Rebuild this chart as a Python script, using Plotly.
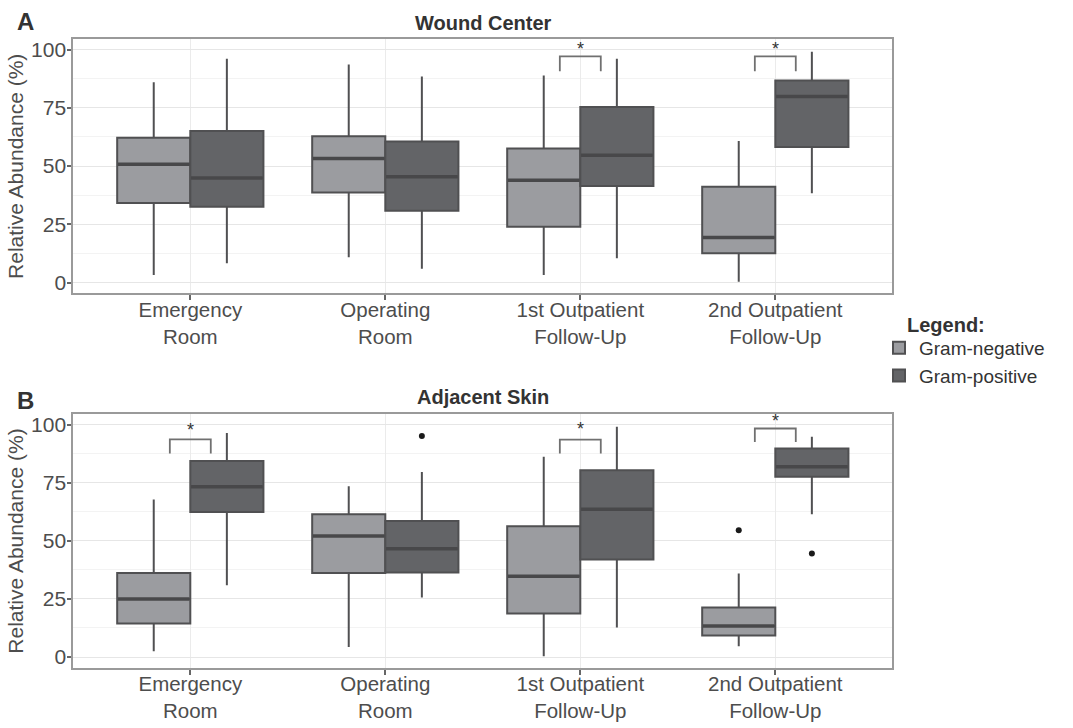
import plotly.graph_objects as go

# ---------------- data ----------------
categories = ["Emergency<br>Room", "Operating<br>Room",
              "1st Outpatient<br>Follow-Up", "2nd Outpatient<br>Follow-Up"]
series_names = ["Gram-negative", "Gram-positive"]

# Panel A: Wound Center
a_gn_low = [3.3, 10.9, 3.3, 0.4]
a_gn_q1 = [34.2, 38.7, 24.0, 12.6]
a_gn_med = [50.8, 53.2, 43.9, 19.3]
a_gn_q3 = [62.2, 62.8, 57.5, 41.1]
a_gn_high = [86.0, 93.6, 88.9, 60.8]

a_gp_low = [8.3, 5.9, 10.4, 38.3]
a_gp_q1 = [32.5, 30.8, 41.4, 58.2]
a_gp_med = [44.9, 45.4, 54.6, 79.9]
a_gp_q3 = [65.0, 60.5, 75.3, 86.7]
a_gp_high = [96.0, 88.4, 96.0, 99.1]

# Panel B: Adjacent Skin
b_gn_low = [2.5, 4.3, 0.3, 4.6]
b_gn_q1 = [14.4, 36.1, 18.7, 9.3]
b_gn_med = [25.0, 52.1, 34.7, 13.3]
b_gn_q3 = [36.1, 61.4, 56.2, 21.3]
b_gn_high = [67.7, 73.5, 86.1, 35.9]

b_gp_low = [30.9, 25.6, 12.7, 61.4]
b_gp_q1 = [62.4, 36.3, 41.9, 77.5]
b_gp_med = [73.2, 46.6, 63.6, 81.8]
b_gp_q3 = [84.3, 58.5, 80.3, 89.7]
b_gp_high = [96.4, 79.6, 99.0, 94.7]

# Outliers (category position, value)
b_gn_out_cat = [4]
b_gn_out_val = [54.5]
b_gp_out_cat = [2, 4]
b_gp_out_val = [95.1, 44.5]

# Significance brackets: category, bar level, leg end, star level
a_sig_cat = [3, 4]
a_sig_top = [97.1, 97.1]
a_sig_leg = [90.7, 90.7]
a_sig_star = [100.3, 100.3]

b_sig_cat = [1, 3, 4]
b_sig_top = [93.6, 93.5, 98.3]
b_sig_leg = [87.5, 87.5, 92.5]
b_sig_star = [97.8, 98.0, 101.4]

y_ticks = [0, 25, 50, 75, 100]

# ---------------- styling ----------------
GN_FILL = "#9b9ca0"
GP_FILL = "#636467"
LINE = "#505052"
FONT = "Liberation Sans"
TXT = "#4d4d4d"
pos = [1, 2, 3, 4]
W = 0.375
OFF = [-W / 2, W / 2]

fig = go.Figure()
shapes = []
annotations = []


def add_panel(xa, ya, gn, gp, showlegend):
    for i, (stats, fill) in enumerate([(gn, GN_FILL), (gp, GP_FILL)]):
        low, q1, med, q3, high = stats
        xs = [p + OFF[i] for p in pos]
        fig.add_trace(go.Box(
            x=xs, q1=q1, median=med, q3=q3, lowerfence=low, upperfence=high,
            width=W, fillcolor=fill, line=dict(color=LINE, width=2),
            whiskerwidth=0, boxpoints=False, name=series_names[i],
            legendgroup=series_names[i], showlegend=showlegend,
            hoverinfo="skip", xaxis=xa, yaxis=ya,
        ))
        # thicker median bar, as in ggplot
        for xc, m in zip(xs, med):
            shapes.append(dict(type="line", xref=xa, yref=ya, x0=xc - W / 2 + 0.004,
                               x1=xc + W / 2 - 0.004, y0=m, y1=m,
                               line=dict(color="#48484a", width=3.5)))


add_panel("x", "y",
          (a_gn_low, a_gn_q1, a_gn_med, a_gn_q3, a_gn_high),
          (a_gp_low, a_gp_q1, a_gp_med, a_gp_q3, a_gp_high), True)
add_panel("x2", "y2",
          (b_gn_low, b_gn_q1, b_gn_med, b_gn_q3, b_gn_high),
          (b_gp_low, b_gp_q1, b_gp_med, b_gp_q3, b_gp_high), False)

# outliers
fig.add_trace(go.Scatter(x=[c + OFF[0] for c in b_gn_out_cat], y=b_gn_out_val,
                         mode="markers", marker=dict(color="#1a1a1a", size=6),
                         showlegend=False, hoverinfo="skip", xaxis="x2", yaxis="y2"))
fig.add_trace(go.Scatter(x=[c + OFF[1] for c in b_gp_out_cat], y=b_gp_out_val,
                         mode="markers", marker=dict(color="#1a1a1a", size=6),
                         showlegend=False, hoverinfo="skip", xaxis="x2", yaxis="y2"))


def add_brackets(xr, yr, cats, tops, legs, stars):
    for c, t, l, s in zip(cats, tops, legs, stars):
        x0, x1 = c - 0.105, c + 0.105
        shapes.append(dict(type="path", xref=xr, yref=yr,
                           path=f"M {x0} {l} L {x0} {t} L {x1} {t} L {x1} {l}",
                           line=dict(color="#707070", width=1.8)))
        annotations.append(dict(x=c, y=s, xref=xr, yref=yr, text="*",
                                showarrow=False,
                                font=dict(family=FONT, size=18, color="#333333"),
                                yanchor="middle"))


add_brackets("x", "y", a_sig_cat, a_sig_top, a_sig_leg, a_sig_star)
add_brackets("x2", "y2", b_sig_cat, b_sig_top, b_sig_leg, b_sig_star)

# titles, panel labels, legend heading
annotations += [
    dict(text="<b>Wound Center</b>", x=483 / 1073, y=1 - 23 / 728, xref="paper", yref="paper",
         yanchor="middle", showarrow=False, font=dict(family=FONT, size=20, color="#333333")),
    dict(text="<b>Adjacent Skin</b>", x=483 / 1073, y=1 - 397 / 728, xref="paper", yref="paper",
         yanchor="middle", showarrow=False, font=dict(family=FONT, size=20, color="#333333")),
    dict(text="<b>A</b>", x=15 / 1073, y=1 - 21 / 728, xref="paper", yref="paper",
         yanchor="middle", showarrow=False, font=dict(family=FONT, size=24, color="#333333")),
    dict(text="<b>B</b>", x=15 / 1073, y=1 - 400 / 728, xref="paper", yref="paper",
         yanchor="middle", showarrow=False, font=dict(family=FONT, size=24, color="#333333")),
    dict(text="<b>Legend:</b>", x=905 / 1073, y=1 - 325 / 728, xref="paper", yref="paper",
         xanchor="left", yanchor="middle", showarrow=False,
         font=dict(family=FONT, size=20, color="#333333")),
]

xdom = [73.3 / 1073, 892.3 / 1073]
ydomA = [1 - 293.3 / 728, 1 - 39.3 / 728]
ydomB = [1 - 667.7 / 728, 1 - 414.3 / 728]

common_x = dict(range=[0.4, 4.6], tickvals=pos, ticktext=categories, showgrid=True,
                gridcolor="#ebebeb", gridwidth=1, zeroline=False, showline=True, mirror=True,
                linecolor="#9a9a9a", linewidth=2, ticks="outside", ticklen=5, tickwidth=1.5,
                tickcolor="#666666", tickfont=dict(family=FONT, size=20.5, color=TXT),
                ticklabelstandoff=-8,
                automargin=False, domain=xdom)
common_y = dict(range=[-4.6, 104.4], tickvals=y_ticks, showgrid=True, gridcolor="#e6e6e6",
                gridwidth=1, zeroline=False, showline=True, mirror=True, linecolor="#9a9a9a",
                linewidth=2, ticks="outside", ticklen=4, tickwidth=1.5, tickcolor="#666666",
                tickfont=dict(family=FONT, size=21, color=TXT),
                ticklabelstandoff=-3,
                minor=dict(tickvals=[12.5, 37.5, 62.5, 87.5], showgrid=True,
                           gridcolor="#f3f3f3", ticks=""),
                title=dict(text="Relative Abundance (%)", standoff=2,
                           font=dict(family=FONT, size=21, color=TXT)),
                automargin=False)

fig.update_layout(
    width=1073, height=728,
    margin=dict(l=0, r=0, t=0, b=0),
    paper_bgcolor="white", plot_bgcolor="white",
    boxmode="overlay",
    xaxis=dict(common_x, anchor="y"),
    yaxis=dict(common_y, domain=ydomA, anchor="x"),
    xaxis2=dict(common_x, anchor="y2"),
    yaxis2=dict(common_y, domain=ydomB, anchor="x2"),
    shapes=shapes,
    annotations=annotations,
    showlegend=True,
    legend=dict(x=879 / 1073, y=1 - 329 / 728, xanchor="left", yanchor="top",
                font=dict(family=FONT, size=19, color="#333333"), itemwidth=30,
                tracegroupgap=0, bgcolor="rgba(0,0,0,0)"),
    font=dict(family=FONT),
)

fig.write_html("out.html", config={"displayModeBar": False},
               post_script="document.body.style.margin='0';document.body.style.padding='0';")
